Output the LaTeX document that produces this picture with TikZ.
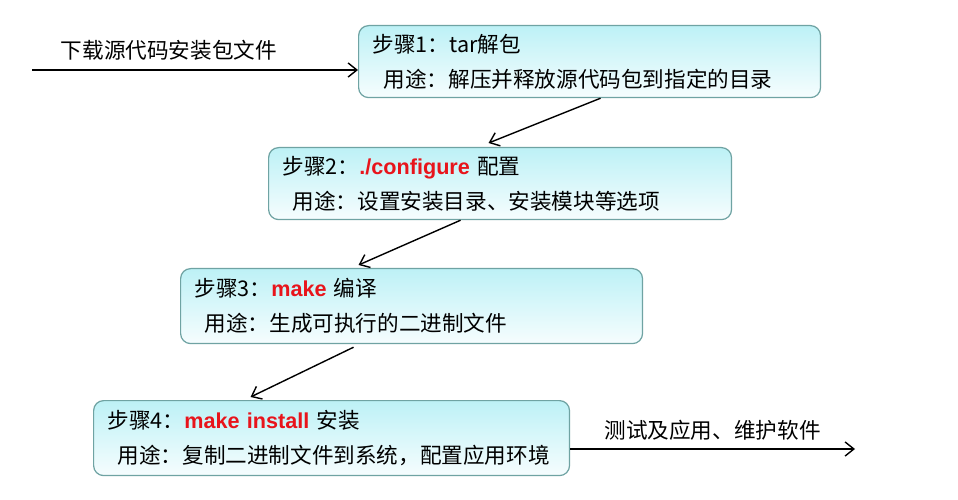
\documentclass[tikz,border=0pt]{standalone}
\usepackage{fontspec}
\setmainfont{Noto Sans CJK SC}
\newfontfamily\latinbf{Liberation Sans}
\usetikzlibrary{calc,arrows.meta}

\definecolor{boxline}{HTML}{6FA3A3}
\definecolor{boxtop}{HTML}{BDF1F6}
\definecolor{boxbot}{HTML}{F6FDFE}
\definecolor{cmdred}{HTML}{E8141B}
\newcommand{\cmd}[1]{{\latinbf\bfseries\color{cmdred}#1}}

\begin{document}
\begin{tikzpicture}[x=0.02cm,y=-0.02cm,
 stepbox/.style={draw=boxline,line width=0.7pt,rounded corners=0.2cm,
        top color=boxtop,bottom color=boxbot,
        anchor=north west,align=left,inner xsep=0.28cm,inner ysep=0pt,
        font=\fontsize{12.3}{19.9}\selectfont},
 flow/.style={line width=0.8pt,-{Straight Barb[length=5pt,width=8pt]}},
 flowtxt/.style={font=\fontsize{12.3}{14}\selectfont}]

\useasboundingbox (0,0) rectangle (958,500);

\node[stepbox,text width=8.68cm,minimum height=1.44cm] (tar) at (358,25)
  {步骤1：tar解包\\\hspace*{0.22cm}用途：解压并释放源代码包到指定的目录};
\node[stepbox,text width=8.70cm,minimum height=1.44cm] (cfg) at (268,147)
  {步骤2：\cmd{./configure} 配置\\\hspace*{0.2cm}用途：设置安装目录、安装模块等选项};
\node[stepbox,text width=8.68cm,minimum height=1.50cm] (make) at (180,268)
  {步骤3：\cmd{make} 编译\\\hspace*{0.2cm}用途：生成可执行的二进制文件};
\node[stepbox,text width=8.96cm,minimum height=1.50cm] (install) at (93,400)
  {步骤4：\cmd{make install} 安装\\\hspace*{0.2cm}用途：复制二进制文件到系统，配置应用环境};

\coordinate (src) at (32,70);
\coordinate (dst) at (855,449);

\draw[flow] (src) -- (src -| tar.west)
   node[flowtxt,above=2pt,pos=0.42] (srctxt) {下载源代码安装包文件};
\draw[flow] ($(tar.south)+(11,0)$) -- ($(cfg.north)+(-11.5,-4)$);
\draw[flow] ($(cfg.south)+(-39.5,0)$) -- ($(make.north)+(-53,-3)$);
\draw[flow] ($(make.south)+(-58,3)$) -- ($(install.north)+(-81,-3)$);
\draw[flow] (install.east |- dst) -- (dst)
   node[flowtxt,above=1pt,midway] (dsttxt) {测试及应用、维护软件};
\end{tikzpicture}
\end{document}
